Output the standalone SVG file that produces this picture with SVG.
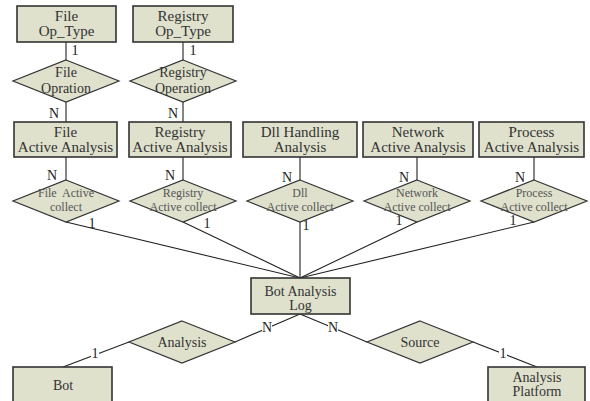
<svg xmlns="http://www.w3.org/2000/svg" width="590" height="401" viewBox="0 0 590 401">
<style>
.box{fill:#dfe1cd;stroke:#333;stroke-width:1.6}
.dia{fill:#dfe1cd;stroke:#333;stroke-width:1.2}
.ln{stroke:#222;stroke-width:1.1;fill:none}
text{font-family:"Liberation Serif","DejaVu Serif",serif;fill:#333;text-anchor:middle;white-space:pre}
.bt{font-size:15px}
.dt{font-size:14px}
.ct{font-size:12px;fill:#555}
.lb{font-size:14px;fill:#222}
.bg{fill:#fff}
</style>
<rect width="590" height="401" fill="#fff"/>
<g id="connectors">
<line class="ln" x1="66" y1="42" x2="66" y2="60"/>
<line class="ln" x1="66" y1="102" x2="66" y2="122"/>
<line class="ln" x1="66" y1="157" x2="66" y2="180"/>
<line class="ln" x1="183" y1="42" x2="183" y2="60"/>
<line class="ln" x1="183" y1="102" x2="183" y2="122"/>
<line class="ln" x1="183" y1="157" x2="183" y2="180"/>
<line class="ln" x1="300" y1="157" x2="300" y2="180"/>
<line class="ln" x1="417" y1="157" x2="417" y2="180"/>
<line class="ln" x1="534" y1="157" x2="534" y2="180"/>
<line class="ln" x1="66" y1="222" x2="300" y2="278"/>
<line class="ln" x1="183" y1="222" x2="300" y2="278"/>
<line class="ln" x1="300" y1="222" x2="300" y2="278"/>
<line class="ln" x1="417" y1="222" x2="300" y2="278"/>
<line class="ln" x1="534" y1="222" x2="300" y2="278"/>
<line class="ln" x1="300" y1="314" x2="235" y2="342"/>
<line class="ln" x1="300" y1="314" x2="367" y2="342"/>
<line class="ln" x1="129" y1="342" x2="63" y2="367"/>
<line class="ln" x1="473" y1="342" x2="537" y2="367"/>
<rect class="bg" x="302" y="219" width="8" height="12"/>
<rect class="bg" x="262" y="321" width="10" height="12"/>
<rect class="bg" x="328" y="321" width="10" height="12"/>
<rect class="bg" x="91" y="348" width="8" height="11"/>
<rect class="bg" x="499" y="348" width="8" height="11"/>
<text class="lb" x="75" y="55">1</text>
<text class="lb" x="193" y="55">1</text>
<text class="lb" x="54" y="118">N</text>
<text class="lb" x="173" y="118">N</text>
<text class="lb" x="52" y="180">N</text>
<text class="lb" x="170" y="180">N</text>
<text class="lb" x="287" y="182">N</text>
<text class="lb" x="404" y="182">N</text>
<text class="lb" x="520" y="182">N</text>
<text class="lb" x="92" y="228">1</text>
<text class="lb" x="207" y="228">1</text>
<text class="lb" x="306" y="230">1</text>
<text class="lb" x="399" y="225">1</text>
<text class="lb" x="513" y="225">1</text>
<text class="lb" x="267" y="332">N</text>
<text class="lb" x="333" y="332">N</text>
<text class="lb" x="95" y="358">1</text>
<text class="lb" x="503" y="358">1</text>
</g>
<g id="file-op-type"><rect class="box" x="17" y="6" width="99" height="36"/><text class="bt" x="66.5" y="21">File</text><text class="bt" x="66.5" y="36">Op_Type</text></g>
<g id="registry-op-type"><rect class="box" x="133" y="6" width="100" height="36"/><text class="bt" x="183" y="21">Registry</text><text class="bt" x="183" y="36">Op_Type</text></g>
<g id="file-operation"><polygon class="dia" points="66,60 119,81 66,102 13,81"/><text class="dt" x="66" y="76.5">File</text><text class="dt" x="66" y="93">Opration</text></g>
<g id="registry-operation"><polygon class="dia" points="183,60 236,81 183,102 130,81"/><text class="dt" x="183" y="76.5">Registry</text><text class="dt" x="183" y="93">Operation</text></g>
<g id="file-active-analysis"><rect class="box" x="14" y="122" width="103" height="35"/><text class="bt" x="65.5" y="137">File</text><text class="bt" x="65.5" y="152">Active Analysis</text></g>
<g id="registry-active-analysis"><rect class="box" x="129" y="122" width="102" height="35"/><text class="bt" x="180" y="137">Registry</text><text class="bt" x="180" y="152">Active Analysis</text></g>
<g id="dll-handling-analysis"><rect class="box" x="243" y="122" width="114" height="35"/><text class="bt" x="300" y="137">Dll Handling</text><text class="bt" x="300" y="152">Analysis</text></g>
<g id="network-active-analysis"><rect class="box" x="363" y="122" width="110" height="35"/><text class="bt" x="418" y="137">Network</text><text class="bt" x="418" y="152">Active Analysis</text></g>
<g id="process-active-analysis"><rect class="box" x="479" y="122" width="105" height="35"/><text class="bt" x="531.5" y="137">Process</text><text class="bt" x="531.5" y="152">Active Analysis</text></g>
<g id="file-active-collect"><polygon class="dia" points="66,180 119,201 66,222 13,201"/><text class="ct" x="66" y="197">File  Active</text><text class="ct" x="66" y="211">collect</text></g>
<g id="registry-active-collect"><polygon class="dia" points="183,180 236,201 183,222 130,201"/><text class="ct" x="183" y="197">Registry</text><text class="ct" x="183" y="211">Active collect</text></g>
<g id="dll-active-collect"><polygon class="dia" points="300,180 353,201 300,222 247,201"/><text class="ct" x="300" y="197">Dll</text><text class="ct" x="300" y="211">Active collect</text></g>
<g id="network-active-collect"><polygon class="dia" points="417,180 470,201 417,222 364,201"/><text class="ct" x="417" y="197">Network</text><text class="ct" x="417" y="211">Active collect</text></g>
<g id="process-active-collect"><polygon class="dia" points="534,180 587,201 534,222 481,201"/><text class="ct" x="534" y="197">Process</text><text class="ct" x="534" y="211">Active collect</text></g>
<g id="bot-analysis-log"><rect class="box" x="251" y="278" width="99" height="36"/><text class="dt" x="300.5" y="295.5">Bot Analysis</text><text class="dt" x="300.5" y="309.5">Log</text></g>
<g id="analysis"><polygon class="dia" points="182,321 235,342 182,363 129,342"/><text class="dt" x="182" y="346.5">Analysis</text></g>
<g id="source"><polygon class="dia" points="420,321 473,342 420,363 367,342"/><text class="dt" x="420" y="346.5">Source</text></g>
<g id="bot"><rect class="box" x="13" y="367" width="99" height="40"/><text class="dt" x="63" y="390">Bot</text></g>
<g id="analysis-platform"><rect class="box" x="488" y="367" width="97" height="40"/><text class="dt" x="537" y="382">Analysis</text><text class="dt" x="537" y="396">Platform</text></g>
</svg>
